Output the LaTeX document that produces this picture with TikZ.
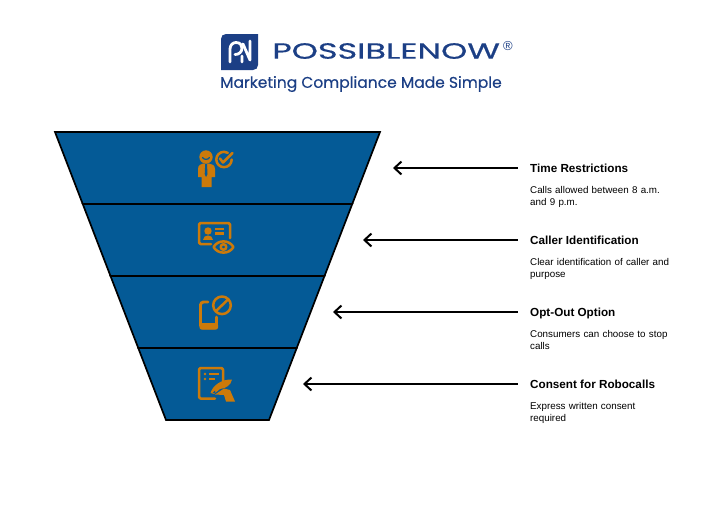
\documentclass[tikz,border=0pt]{standalone}
\usepackage{fontspec}
\setmainfont{Liberation Sans}
\newfontfamily\logofont[FakeBold=0.5]{Poppins}
\newfontfamily\tagfont[FakeBold=0.35]{Poppins}
\usetikzlibrary{arrows.meta}
\definecolor{fun}{HTML}{045A96}
\definecolor{ico}{HTML}{CC7A0A}
\definecolor{nav}{HTML}{1C3F85}
\tikzset{
 seg/.style={fill=fun,draw=black,line width=1.7pt,line join=miter},
 arr/.style={draw=black,line width=2pt,{Straight Barb[length=7pt,width=13pt,line width=2pt]}-},
 ttl/.style={anchor=west,inner sep=0pt,font=\fontsize{11.7}{13}\selectfont\bfseries,text height=10pt,text depth=2pt},
 dsc/.style={anchor=north west,inner sep=0pt,font=\fontsize{9.8}{12}\selectfont,align=left,text width=160pt},
 il/.style={draw=ico,line width=2.5pt,fill=none,line cap=round,line join=round},
 if/.style={fill=ico,draw=none},
 lg/.style={draw=white,line width=2.8pt,line cap=round,line join=round},
}
\begin{document}
\begin{tikzpicture}[x=1pt,y=-1pt]
\useasboundingbox (0,0) rectangle (720,528);
% logo
\path[fill=nav] (226,34) -- (258,34) -- (258,65) .. controls (258,68) and (256,70) .. (253,70) -- (221,70) -- (221,39) .. controls (221,36) and (223,34) .. (226,34) -- cycle;
\draw[lg] (230,62) -- (230,49) .. controls (230,45) and (233,42.5) .. (236,42.5) .. controls (240,42.5) and (242,45) .. (242,48) .. controls (242,52) and (239,54.5) .. (235,54.5);
\draw[lg] (242,62) -- (242,56) (243,44) -- (250,60) -- (250,41);
\node[inner sep=0pt,anchor=west,text=nav,xscale=1.52] (brand) at (272,51) {\logofont\fontsize{22}{22}\selectfont POSSIBLENOW};
\node[inner sep=0pt,text=nav] (reg) at (508,46.5) {\fontsize{13}{13}\selectfont ®};
\node[inner sep=0pt,anchor=west,text=nav] (tag) at (220,84) {\tagfont\fontsize{15.5}{15.5}\selectfont Marketing Compliance Made Simple};
% funnel
\path[seg] (55,132) -- (380,132) -- (352.25,204) -- (82.75,204) -- cycle;
\path[seg] (82.75,204) -- (352.25,204) -- (324.5,276) -- (110.5,276) -- cycle;
\path[seg] (110.5,276) -- (324.5,276) -- (296.75,348) -- (138.25,348) -- cycle;
\path[seg] (138.25,348) -- (296.75,348) -- (269,420) -- (166,420) -- cycle;
% labels
\node[ttl] (t1) at (530,168) {Time Restrictions};
\node[ttl] (t2) at (530,240) {Caller Identification};
\node[ttl] (t3) at (530,312) {Opt-Out Option};
\node[ttl] (t4) at (530,384) {Consent for Robocalls};
\node[dsc] (d1) at (530,186) {Calls allowed between 8 a.m.\\and 9 p.m.};
\node[dsc] (d2) at (530,258) {Clear identification of caller and\\purpose};
\node[dsc] (d3) at (530,330) {Consumers can choose to stop\\calls};
\node[dsc] (d4) at (530,402) {Express written consent\\required};
\coordinate (a1) at (393,168);
\coordinate (a2) at (363,240);
\coordinate (a3) at (333,312);
\coordinate (a4) at (303,384);
\draw[arr] (a1) -- ([xshift=-12pt]t1.west);
\draw[arr] (a2) -- ([xshift=-12pt]t2.west);
\draw[arr] (a3) -- ([xshift=-12pt]t3.west);
\draw[arr] (a4) -- ([xshift=-12pt]t4.west);
% icon 1
\fill[if] (206,157) circle (6.7);
\draw[il,draw=fun,line width=1.2pt] (202.5,157.5) .. controls (204,160) and (208,160) .. (209.5,157.5);
\fill[if] (198,177) -- (198,169) .. controls (198,165) and (201,164) .. (203,163.5) -- (209,163.5) .. controls (212,164) and (215,165) .. (215,169) -- (215,177) -- (211.5,177) -- (211.5,187) -- (201.5,187) -- (201.5,177) -- cycle;
\fill[fun] (205.2,164) -- (207,164) -- (207.5,174) -- (206,177) -- (204.7,174) -- cycle;
\draw[il] (224,159.5) ++(0:7.7) arc (0:300:7.7);
\draw[il] (220,158.5) -- (223,162.5) -- (232.5,153);
% icon 2
\draw[il,rounded corners=1.5pt] (211,244) -- (199,244) -- (199,223) -- (230,223) -- (230,238);
\fill[if] (208,231) circle (3.7);
\fill[if] (203,240) .. controls (203,233.5) and (213,233.5) .. (213,240) -- cycle;
\draw[il,line cap=butt] (215,229) -- (224,229) (215,233.5) -- (224,233.5);
\draw[il,fill=fun] (213.5,247) .. controls (218,239.5) and (229,239.5) .. (233.5,247) .. controls (229,254.5) and (218,254.5) .. (213.5,247) -- cycle;
\draw[il] (223.5,247) circle (2.8);
% icon 3
\draw[il,line width=2.9pt,rounded corners=3pt] (208,302) -- (200.5,302) -- (200.5,328) -- (216.5,328) -- (216.5,317);
\fill[if,rounded corners=2pt] (199.5,323) rectangle (218,329.5);
\draw[il,line width=2.5pt] (222,305.3) circle (8.8);
\draw[il,line width=2.5pt] (216,311) -- (228,299.5);
% icon 4
\draw[il,rounded corners=1.5pt] (215,398.5) -- (199,398.5) -- (199,368) -- (223,368) -- (223,381);
\fill[if] (205,374) circle (1.3) (205,379) circle (1.3);
\draw[il,line width=1.6pt,line cap=butt] (209,374) -- (219,374) (209,379) -- (215,379);
\fill[if] (210.5,393) .. controls (213,385) and (222,379) .. (232,379.5) .. controls (231,385) and (226,388.5) .. (220,389) -- (214,394) -- cycle;
\fill[if] (215,394.5) -- (224,388.5) -- (230,390) -- (235,401.5) -- (226,401.5) -- (224,395) -- cycle;
\fill[fun] (212.5,393) -- (215,390.5) -- (215.5,393) -- cycle;
\end{tikzpicture}
\end{document}
